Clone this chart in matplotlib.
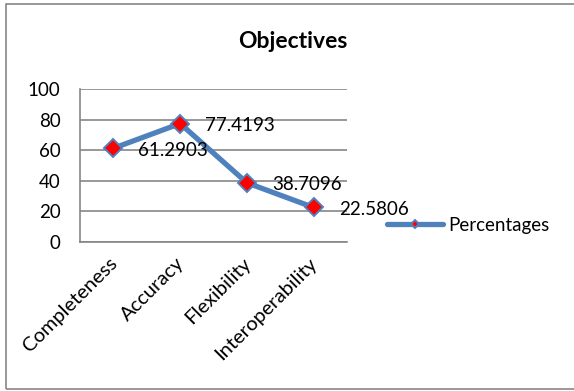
import matplotlib.pyplot as plt
import matplotlib.transforms as mtransforms
from matplotlib.patches import Rectangle

plt.rcParams['font.family'] = ['Lato', 'DejaVu Sans']

categories = ['Completeness', 'Accuracy', 'Flexibility', 'Interoperability']
percentages = [61.2903, 77.4193, 38.7096, 22.5806]
label_texts = ['61.2903', '77.4193', '38.7096', '22.5806']
yticks = [0, 20, 40, 60, 80, 100]

blue = '#4F81BD'
grid_gray = '#868686'
fs = 13.5

fig = plt.figure(figsize=(5.74, 3.91), dpi=100)
ax = fig.add_axes([0.1394, 0.381, 0.4652, 0.3913])

x = list(range(len(categories)))
line, = ax.plot(x, percentages, color=blue, lw=3.8, marker='D', ms=9.5,
                mfc='#FF0000', mec=blue, mew=1.4, label='Percentages',
                solid_capstyle='round', zorder=3)

for xi, v, t in zip(x, percentages, label_texts):
    ax.annotate(t, (xi, v), xytext=(18, -1.5), textcoords='offset points',
                ha='left', va='center', fontsize=fs, color='black',
                annotation_clip=False, zorder=4)

ax.set_xlim(-0.5, len(categories) - 0.5)
ax.set_ylim(0, 100)
ax.set_yticks(yticks)
ax.set_xticks(x)
ax.set_xticklabels(categories, rotation=45, ha='right', va='top',
                   rotation_mode='anchor')
ax.tick_params(axis='both', length=0, labelsize=fs, colors='black')
ax.tick_params(axis='x', labelsize=14.5, pad=9)
ax.tick_params(axis='y', pad=14)
shift = mtransforms.ScaledTranslation(-5 / 100, 0, fig.dpi_scale_trans)
for lab in ax.get_xticklabels():
    lab.set_transform(lab.get_transform() + shift)
ax.yaxis.grid(True, color=grid_gray, lw=1.2)
ax.set_axisbelow(True)
for s in ['top', 'right']:
    ax.spines[s].set_visible(False)
for s in ['left', 'bottom']:
    ax.spines[s].set_color(grid_gray)
    ax.spines[s].set_linewidth(1.2)

fig.text(0.510, 0.895, 'Objectives', ha='center', va='center',
         fontsize=16.5, fontweight='bold')

leg = fig.legend(handles=[line], loc='center left',
                 bbox_to_anchor=(387 / 574, 1 - 225 / 391), frameon=False,
                 fontsize=fs, handlelength=3.0, handletextpad=0.27,
                 borderpad=0, borderaxespad=0, markerscale=0.4)

fig.patches.append(Rectangle((6 / 574, 2 / 391), 1.0, 1 - 6 / 391,
                             transform=fig.transFigure, fill=False,
                             edgecolor=grid_gray, lw=1.2))

fig.savefig('out.png', dpi=100)
